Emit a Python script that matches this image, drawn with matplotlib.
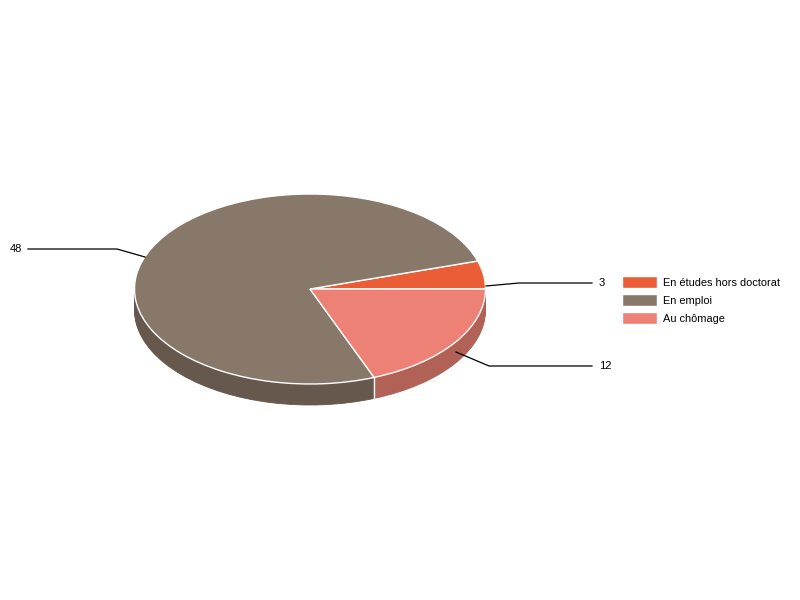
import math
import matplotlib
matplotlib.use("Agg")
import matplotlib.pyplot as plt

plt.rcParams["font.family"] = ["Liberation Sans", "DejaVu Sans"]

labels = ["En études hors doctorat", "En emploi", "Au chômage"]
values = [3, 48, 12]
colors = ["#EB5D37", "#88786A", "#EE8175"]
side_colors = ["#B04629", "#66584D", "#B26157"]

# pie geometry in pixels, y going down as in the picture
cx, cy = 310, 289
rx, ry = 175.5, 95
depth = 21

# leader lines: (x, y) in pixels, from the slice to the label
leaders = [
    [(486, 286), (519, 283), (592, 283)],
    [(145, 257), (117, 249), (28, 249)],
    [(456, 352), (489, 366), (592, 366)],
]
label_pos = [(599, 283, "left"), (22, 249, "right"), (599, 366, "left")]


def px(x, y):
    return (x - cx) / rx, (cy - y) / ry


fig = plt.figure(figsize=(8, 6), dpi=100)
ax = fig.add_axes([0, 0, 1, 1])

# side of the disc: same pie stacked downwards
for d in range(depth, 0, -1):
    ax.pie(values, colors=side_colors, center=(0, -d / ry), startangle=0,
           counterclock=True, wedgeprops={"linewidth": 0.6})
    for w, c in zip(ax.patches[-3:], side_colors):
        w.set_edgecolor(c)

wedges, _ = ax.pie(values, colors=colors, startangle=0, counterclock=True,
                   wedgeprops={"linewidth": 1.0, "edgecolor": "white"})

ax.set_aspect("auto")
ax.set_xlim(px(0, 0)[0], px(800, 0)[0])
ax.set_ylim(px(0, 600)[1], px(0, 0)[1])
ax.axis("off")

# white seam on the side where the last slice starts
seam_x = wedges[2].r * math.cos(math.radians(wedges[2].theta1))
seam_y = wedges[2].r * math.sin(math.radians(wedges[2].theta1))
ax.plot([seam_x, seam_x], [seam_y, seam_y - depth / ry], color="white", lw=1.0, zorder=5)

for pts, (lx, ly, ha), v in zip(leaders, label_pos, values):
    xy = [px(*p) for p in pts]
    ax.plot([p[0] for p in xy], [p[1] for p in xy], color="black", lw=0.9, zorder=6)
    tx, ty = px(lx, ly)
    ax.text(tx, ty, str(v), ha=ha, va="center", fontsize=8, color="black")

ax.legend(wedges, labels, loc="upper left", bbox_to_anchor=px(622, 276),
          bbox_transform=ax.transData, frameon=False, fontsize=7.9, borderpad=0,
          borderaxespad=0, handlelength=3.15, handleheight=1.28,
          handletextpad=0.55, labelspacing=0.56)

fig.savefig("out.png", dpi=100)
